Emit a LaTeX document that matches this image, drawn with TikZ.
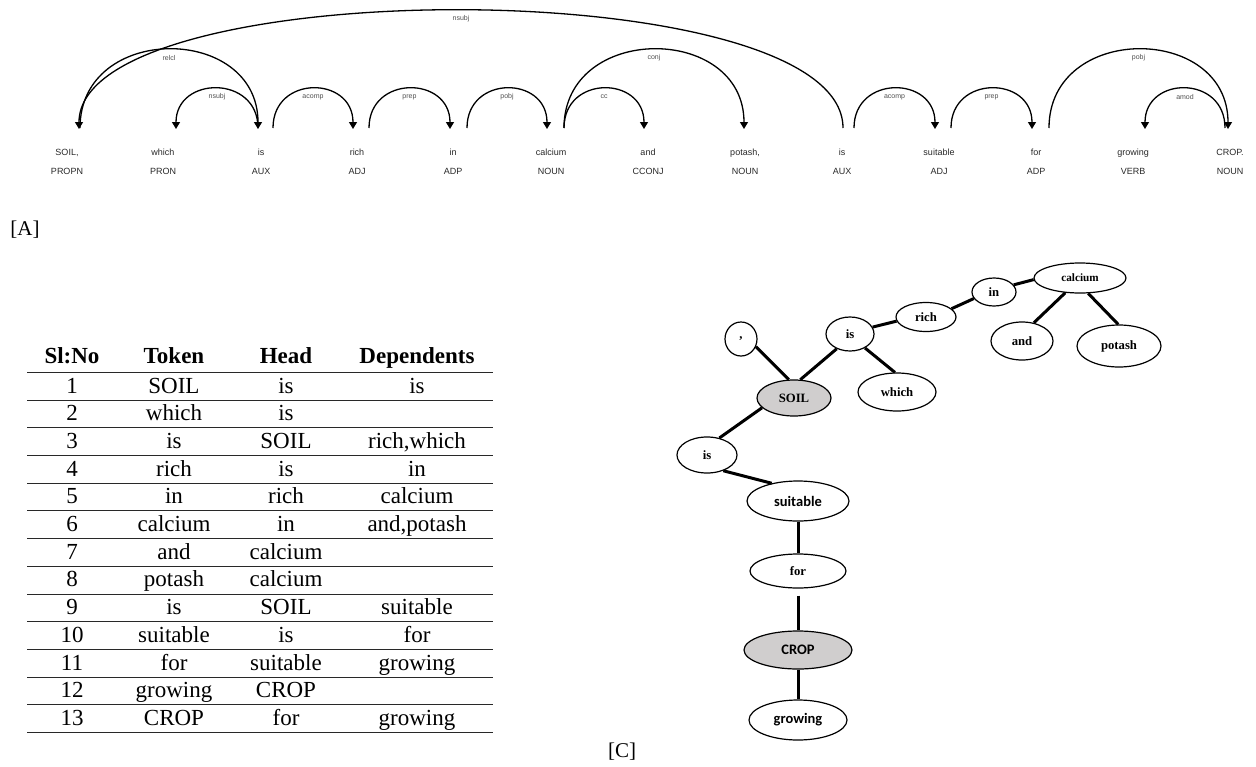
\documentclass[tikz,border=0pt]{standalone}
\usepackage{fontspec}
\setmainfont{Liberation Serif}
\newfontfamily\arialf{Liberation Sans}
\newfontfamily\calib{Carlito}
\usetikzlibrary{arrows.meta,shapes.geometric}
\definecolor{wordc}{RGB}{40,40,40}
\definecolor{labc}{RGB}{80,80,80}
\definecolor{rootfill}{RGB}{208,206,206}
\definecolor{rulec}{RGB}{40,40,40}
\tikzset{
  word/.style={font=\arialf\fontsize{9}{10}\selectfont, text=wordc, inner sep=0pt, anchor=base},
  arcline/.style={line width=1.3pt, black},
  arcarrow/.style={arcline, -{Triangle[length=7pt,width=8pt]}},
  lab/.style={font=\arialf\fontsize{7}{8}\selectfont, text=labc, inner sep=0pt, yshift=-8.5pt},
  cell/.style={font=\fontsize{23}{26}\selectfont, anchor=base, inner sep=0pt},
  hcell/.style={font=\bfseries\fontsize{23}{26}\selectfont, anchor=base, inner sep=0pt},
  tn/.style={ellipse, draw=black, line width=1.2pt, inner sep=0pt, fill=white,
    font=\bfseries\fontsize{12.7}{14}\selectfont},
  tnc/.style={tn, font=\calib\bfseries\fontsize{14.5}{16}\selectfont},
  edge/.style={line width=3pt, black},
  caption/.style={font=\fontsize{21}{24}\selectfont, anchor=base, inner sep=0pt}
}
\begin{document}
\begin{tikzpicture}[x=1pt,y=-1pt]
\useasboundingbox (0,0) rectangle (1256,766);
% ---------------- [A] dependency parse ----------------
\foreach \x/\w/\p [count=\i from 0] in {67/{SOIL,}/PROPN,163/which/PRON,261/is/AUX,357/rich/ADJ,453/in/ADP,551/calcium/NOUN,648/and/CCONJ,745/{potash,}/NOUN,842/is/AUX,939/suitable/ADJ,1036/for/ADP,1133/growing/VERB,1230/{CROP.}/NOUN}{
  \node[word] (w\i) at (\x,155.5) {\w};
  \node[word] (p\i) at (\x,174.5) {\p};
}
% arc end points
\coordinate (relS) at (80,128);   \coordinate (relE) at (258,129);
\coordinate (ns1S) at (258,128);  \coordinate (ns1E) at (176,129);
\coordinate (ac1S) at (273,128);  \coordinate (ac1E) at (353,129);
\coordinate (pr1S) at (369,128);  \coordinate (pr1E) at (450,129);
\coordinate (po1S) at (467,128);  \coordinate (po1E) at (547,129);
\coordinate (ccS) at (564,128);   \coordinate (ccE) at (644,129);
\coordinate (cjS) at (564,128);   \coordinate (cjE) at (744,129);
\coordinate (ns2S) at (843,128);  \coordinate (ns2E) at (79,129);
\coordinate (ac2S) at (854,128);  \coordinate (ac2E) at (935,129);
\coordinate (pr2S) at (951,128);  \coordinate (pr2E) at (1032,129);
\coordinate (po2S) at (1049,128); \coordinate (po2E) at (1228,129);
\coordinate (amS) at (1225,128);  \coordinate (amE) at (1145,129);
% level 1 arcs
\draw[arcarrow] (ns1S) .. controls +(0,-53.3) and +(0,-53.3) .. (ns1E) node[lab,midway] (lns1) {nsubj};
\draw[arcarrow] (ac1S) .. controls +(0,-53.3) and +(0,-53.3) .. (ac1E) node[lab,midway] (lac1) {acomp};
\draw[arcarrow] (pr1S) .. controls +(0,-53.3) and +(0,-53.3) .. (pr1E) node[lab,midway] (lpr1) {prep};
\draw[arcarrow] (po1S) .. controls +(0,-53.3) and +(0,-53.3) .. (po1E) node[lab,midway] (lpo1) {pobj};
\draw[arcarrow] (ccS) .. controls +(0,-53.3) and +(0,-53.3) .. (ccE) node[lab,midway] (lcc) {cc};
\draw[arcarrow] (ac2S) .. controls +(0,-53.3) and +(0,-53.3) .. (ac2E) node[lab,midway] (lac2) {acomp};
\draw[arcarrow] (pr2S) .. controls +(0,-53.3) and +(0,-53.3) .. (pr2E) node[lab,midway] (lpr2) {prep};
\draw[arcarrow] (amS) .. controls +(0,-53.3) and +(0,-53.3) .. (amE) node[lab,midway] (lam) {amod};
% level 2 arcs
\draw[arcarrow] (relS) .. controls +(0,-105.3) and +(0,-105.3) .. (relE) node[lab,midway] (lrel) {relcl};
\draw[arcarrow] (cjS) .. controls +(0,-105.3) and +(0,-105.3) .. (cjE) node[lab,midway] (lcj) {conj};
\draw[arcarrow] (po2S) .. controls +(0,-105.3) and +(0,-105.3) .. (po2E) node[lab,midway] (lpo2) {pobj};
% level 3 arc
\draw[arcarrow] (ns2S) .. controls +(0,-157.3) and +(0,-157.3) .. (ns2E) node[lab,midway] (lns2) {nsubj};
\node[caption] (capA) at (25,235) {[A]};
% ---------------- table ----------------
\node[hcell] (hn) at (72,363) {Sl:No};
\node[hcell] (ht) at (174,363) {Token};
\node[hcell] (hh) at (286,363) {Head};
\node[hcell] (hd) at (417,363) {Dependents};
\foreach \n/\t/\h/\d [count=\k] in {1/SOIL/is/is,2/which/is/{},3/is/SOIL/{rich,which},4/rich/is/in,5/in/rich/calcium,6/calcium/in/{and,potash},7/and/calcium/{},8/potash/calcium/{},9/is/SOIL/suitable,10/suitable/is/for,11/for/suitable/growing,12/growing/CROP/{},13/CROP/for/growing}{
  \pgfmathsetmacro{\yb}{393+27.7*(\k-1)}
  \node[cell] (n\k) at (72,\yb) {\n};
  \node[cell] (t\k) at (174,\yb) {\t};
  \node[cell] (h\k) at (286,\yb) {\h};
  \node[cell] (d\k) at (417,\yb) {\d};
}
\foreach \j in {0,...,13}{
  \pgfmathsetmacro{\ly}{round(372+27.7*\j)+0.5}
  \draw[rulec, line width=1.2pt] (27,\ly) -- (493,\ly);
}
% ---------------- [C] tree ----------------
\node[tn, minimum width=32pt, minimum height=34pt] (comma) at (741,339) {,};
\node[tn, minimum width=48pt, minimum height=34pt] (isA) at (850,334) {is};
\node[tn, minimum width=60pt, minimum height=29pt] (rich) at (926,317) {rich};
\node[tn, minimum width=44pt, minimum height=28pt] (in) at (994,292) {in};
\node[tn, minimum width=92pt, minimum height=30pt, font=\bfseries\fontsize{11.2}{13}\selectfont] (calcium) at (1080,278) {calcium};
\node[tn, minimum width=62pt, minimum height=38pt] (and) at (1022,341) {and};
\node[tn, minimum width=84pt, minimum height=42pt] (potash) at (1119,346) {potash};
\node[tn, minimum width=78pt, minimum height=38pt] (which) at (897,392) {which};
\node[tn, minimum width=74pt, minimum height=36pt, fill=rootfill] (soil) at (794,398) {SOIL};
\node[tn, minimum width=60pt, minimum height=36pt] (isB) at (707,455) {is};
\node[tnc, minimum width=102pt, minimum height=40pt] (suitable) at (798,501) {suitable};
\node[tn, minimum width=96pt, minimum height=34pt] (for) at (798,571) {for};
\node[tnc, minimum width=108pt, minimum height=38pt, fill=rootfill] (crop) at (798,650) {CROP};
\node[tnc, minimum width=98pt, minimum height=40pt] (growing) at (798,720) {growing};
\draw[edge] (comma.-27) -- (soil.106);
\draw[edge] (isA.228) -- (soil.71);
\draw[edge] (isA.17) -- (rich.188);
\draw[edge] (rich.18) -- (in.198);
\draw[edge] (in.20) -- (calcium.182);
\draw[edge] (calcium.225) -- (and.57);
\draw[edge] (calcium.-62) -- (potash.92);
\draw[edge] (isA.-43) -- (which.96);
\draw[edge] (soil.197) -- (isB.54);
\draw[edge] (isB.-44) -- (suitable.146);
\draw[edge] (suitable.south) -- (for.north);
\draw[edge, shorten <=7pt] (for.south) -- (crop.north);
\draw[edge] (crop.south) -- (growing.north);
\node[caption] (capC) at (622,757) {[C]};
\end{tikzpicture}
\end{document}
